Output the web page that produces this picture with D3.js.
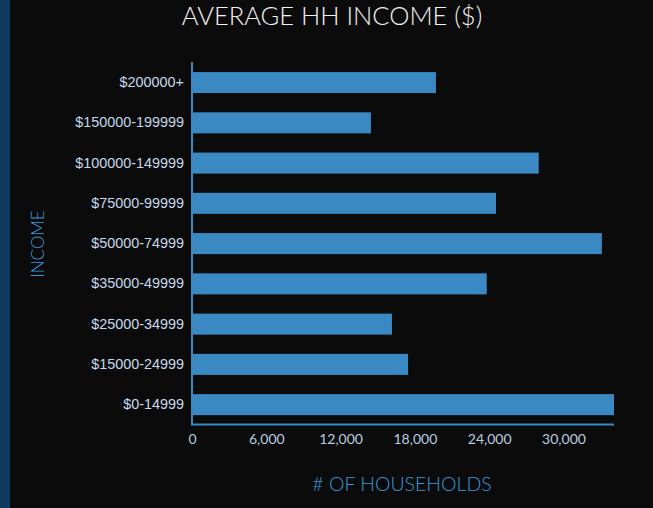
<!DOCTYPE html>
<html><head><meta charset="utf-8">
<script src="https://cdn.jsdelivr.net/npm/d3@7"></script>
<style>
html,body{margin:0;padding:0;background:#0b0b0b;overflow:hidden;}
</style></head>
<body>
<svg id="chart" width="653" height="508"></svg>
<script>
const categories = ["$200000+","$150000-199999","$100000-149999","$75000-99999","$50000-74999","$35000-49999","$25000-34999","$15000-24999","$0-14999"];
const households = [19700,14450,28000,24550,33100,23800,16150,17450,34080];
const xTicks = [0,6000,12000,18000,24000,30000];
const title = "AVERAGE HH INCOME ($)";
const xTitle = "# OF HOUSEHOLDS";
const yTitle = "INCOME";

const svg = d3.select("#chart");
svg.append("rect").attr("x",0).attr("y",0).attr("width",653).attr("height",508).attr("fill","#0b0b0b");
svg.append("rect").attr("x",0).attr("y",0).attr("width",10).attr("height",508).attr("fill","#0e3b5d");

const x0 = 192, x1 = 614, yTop = 63, yBot = 424;
const x = d3.scaleLinear().domain([0, d3.max(households)]).range([x0, x1]);
const y = d3.scaleBand().domain(categories).range([yTop, 424.2]).paddingInner(0.478).paddingOuter(0.225);

const blue = "#3a89c3";

svg.append("g").selectAll("rect").data(categories).join("rect")
  .attr("x", x(0))
  .attr("y", d => y(d))
  .attr("width", (d,i) => x(households[i]) - x(0))
  .attr("height", y.bandwidth())
  .attr("fill", blue);

// axes lines
svg.append("line").attr("x1",x0).attr("x2",x0).attr("y1",62).attr("y2",yBot+1)
  .attr("stroke",blue).attr("stroke-width",2);
svg.append("line").attr("x1",x0-1).attr("x2",x1).attr("y1",yBot+0.5).attr("y2",yBot+0.5)
  .attr("stroke",blue).attr("stroke-width",2);

// y axis labels
const yAxis = d3.axisLeft(y).tickSize(0).tickPadding(8);
const gy = svg.append("g").attr("transform",`translate(${x0},0)`).call(yAxis);
gy.select(".domain").remove();
gy.selectAll("text").attr("fill","#c6d9ec").style("font-family","'Liberation Sans', Arial, sans-serif").style("font-size","14.4px");

// x axis labels
const xAxis = d3.axisBottom(x).tickValues(xTicks).tickSize(0).tickPadding(10).tickFormat(d3.format(","));
const gx = svg.append("g").attr("transform",`translate(0,${yBot})`).call(xAxis);
gx.select(".domain").remove();
gx.selectAll("text").attr("fill","#b9cde0").style("font-family","Lato, sans-serif").style("font-size","14px");

// title
svg.append("text").attr("x",332).attr("y",25).attr("text-anchor","middle")
  .attr("fill","#f2f2f2").style("font-family","Lato, sans-serif").style("font-weight","300").style("font-size","25.5px")
  .text(title);

svg.append("text").attr("x",402).attr("y",491).attr("text-anchor","middle")
  .attr("fill","#3d95d8").style("font-family","Lato, sans-serif").style("font-weight","300").style("font-size","19.5px")
  .text(xTitle);

svg.append("text").attr("transform","translate(44,244) rotate(-90)").attr("text-anchor","middle")
  .attr("fill","#3d95d8").style("font-family","Lato, sans-serif").style("font-weight","300").style("font-size","17px")
  .text(yTitle);
</script>
</body></html>
